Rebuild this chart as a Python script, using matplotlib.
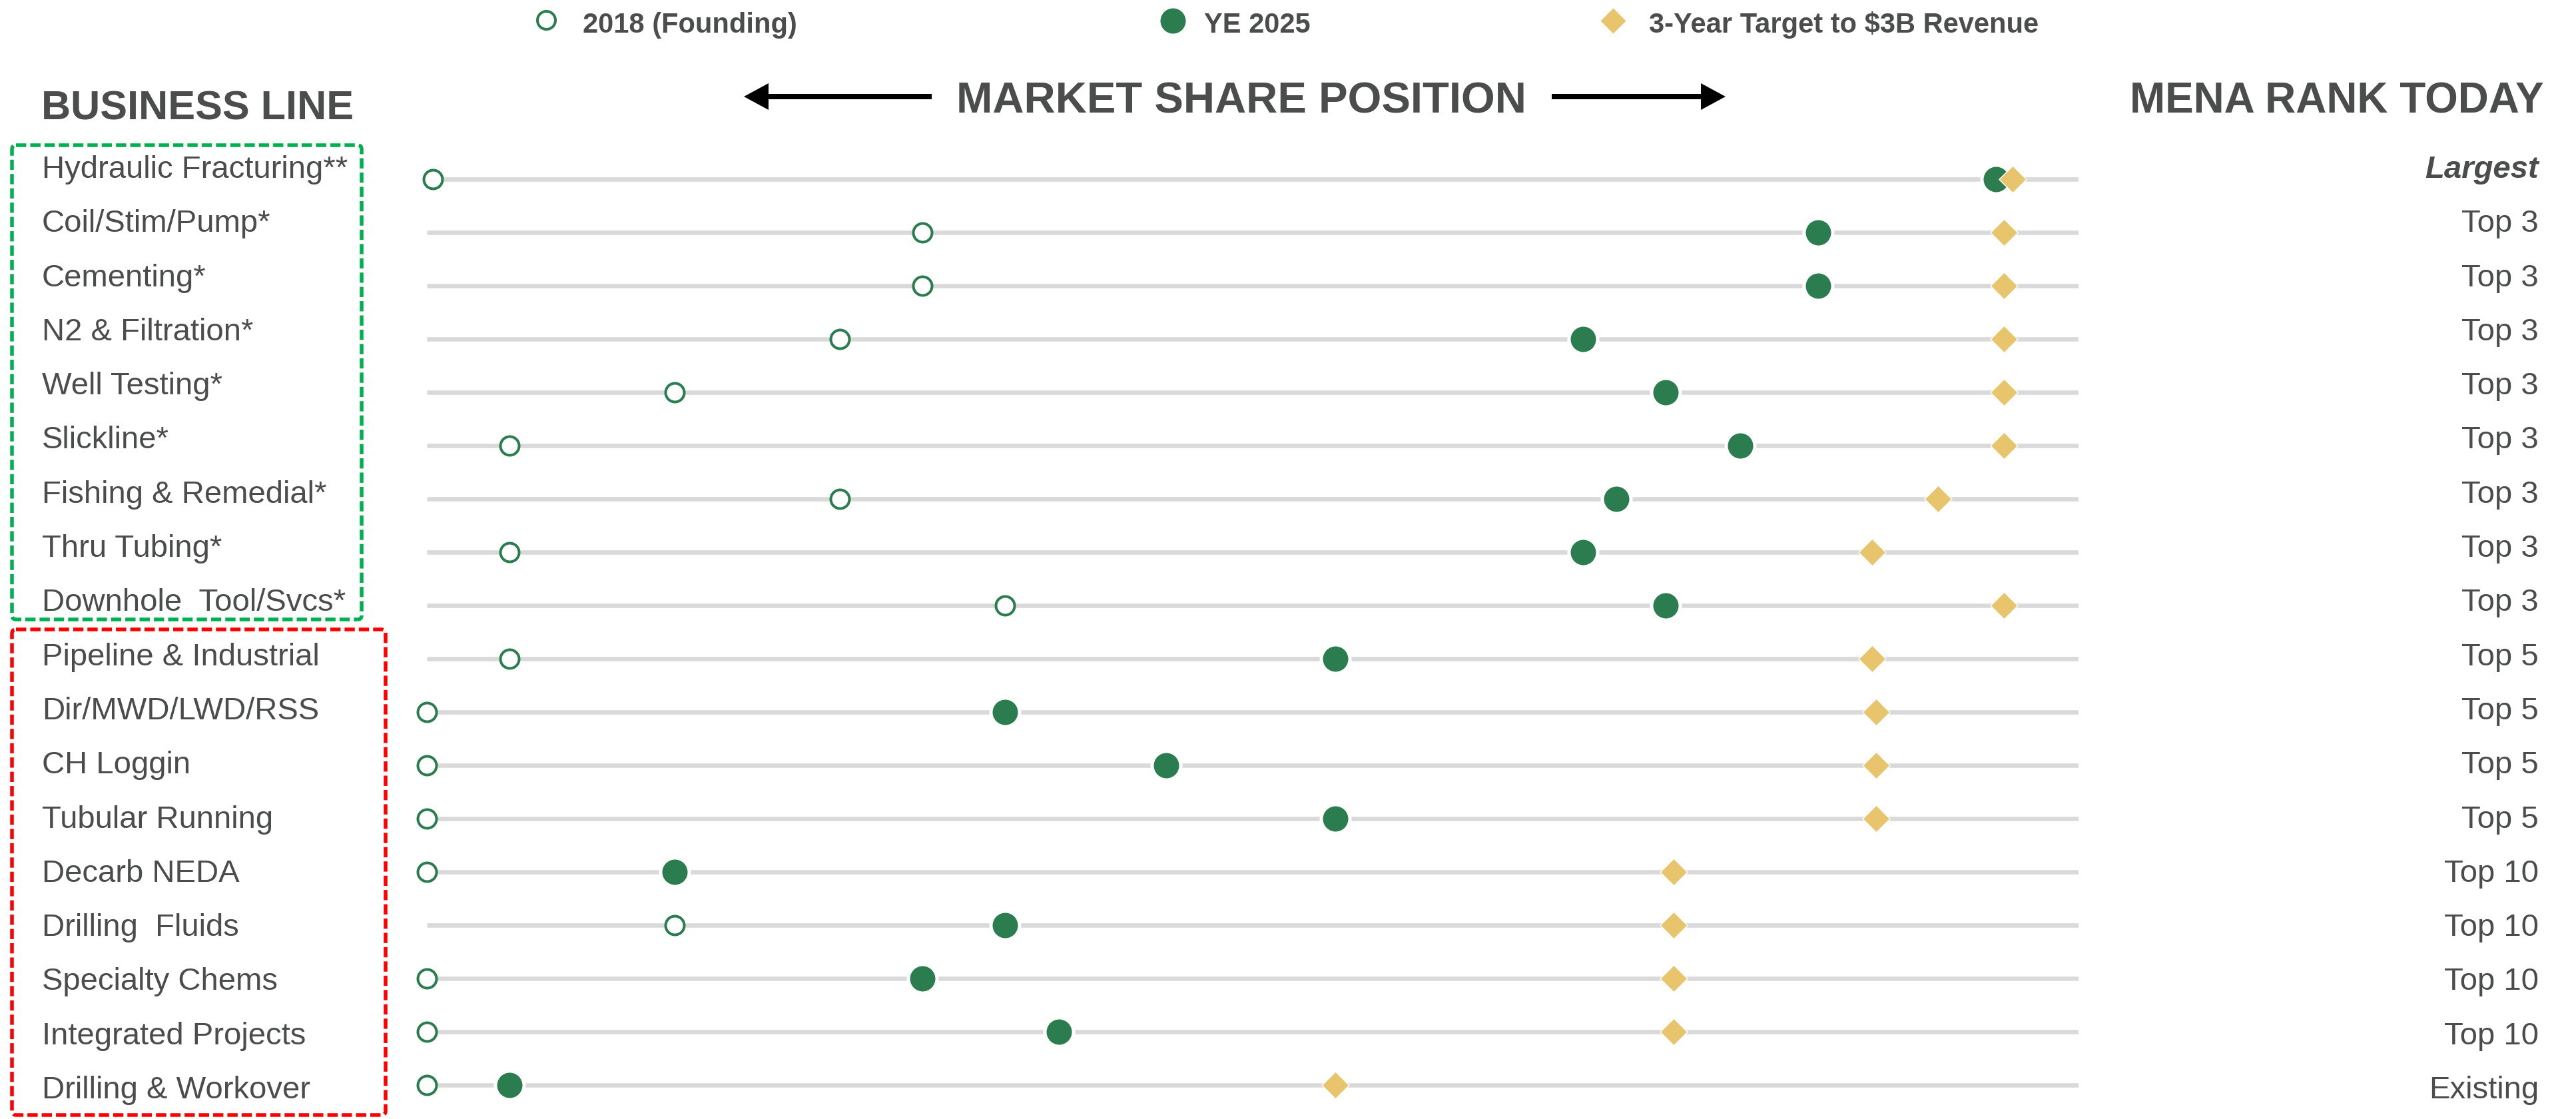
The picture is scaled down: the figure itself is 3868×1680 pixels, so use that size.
import matplotlib.pyplot as plt
from matplotlib.patches import FancyBboxPatch, FancyArrow

plt.rcParams["font.family"] = ["Liberation Sans", "DejaVu Sans"]

# Business lines, top to bottom
business_lines = [
    "Hydraulic Fracturing**", "Coil/Stim/Pump*", "Cementing*", "N2 & Filtration*",
    "Well Testing*", "Slickline*", "Fishing & Remedial*", "Thru Tubing*",
    "Downhole  Tool/Svcs*", "Pipeline & Industrial", "Dir/MWD/LWD/RSS", "CH Loggin",
    "Tubular Running", "Decarb NEDA", "Drilling  Fluids", "Specialty Chems",
    "Integrated Projects", "Drilling & Workover",
]
mena_rank = [
    "Largest", "Top 3", "Top 3", "Top 3", "Top 3", "Top 3", "Top 3", "Top 3", "Top 3",
    "Top 5", "Top 5", "Top 5", "Top 5", "Top 10", "Top 10", "Top 10", "Top 10", "Existing",
]

# Market share position (0 = left end of the track, 20 = right end)
pos_2018 = [0.07, 6, 6, 5, 3, 1, 5, 1, 7, 1, 0, 0, 0, 0, 3, 0, 0, 0]
pos_2025 = [19.0, 16.85, 16.85, 14.0, 15.0, 15.9, 14.4, 14.0, 15.0,
            11.0, 7.0, 8.95, 11.0, 3.0, 7.0, 6.0, 7.65, 1.0]
pos_target = [19.2, 19.1, 19.1, 19.1, 19.1, 19.1, 18.3, 17.5, 19.1,
              17.5, 17.55, 17.55, 17.55, 15.1, 15.1, 15.1, 15.1, 11.0]

legend_labels = ["2018 (Founding)", "YE 2025", "3-Year Target to $3B Revenue"]

GREEN = "#2b7d4f"
GOLD = "#e8c46c"
TRACK = "#d9d9d9"
TEXT = "#4a4d4c"
PT = 0.72  # points per pixel at dpi 100

W, H = 3868, 1680
fig = plt.figure(figsize=(W / 100, H / 100), dpi=100)

# overlay in pixel coordinates for headers, labels, boxes and arrows
ov = fig.add_axes([0, 0, 1, 1])
ov.set_xlim(0, W)
ov.set_ylim(H, 0)
ov.axis("off")

# plotting area: track runs from x=641px to x=3121px, rows every 80px from y=269px
x0_px, x1_px = 641, 3121
row0_px, row_step = 269, 80.0
ax = fig.add_axes([x0_px / W, 0, (x1_px - x0_px) / W, 1])
ax.set_xlim(0, 20)
ax.set_ylim((H - row0_px) / row_step, -row0_px / row_step)
ax.axis("off")

diamond = [(0, 1), (1, 0), (0, -1), (-1, 0), (0, 1)]
n = len(business_lines)
rows = list(range(n))

ax.hlines(rows, 0, 20, color=TRACK, lw=6.5 * PT, zorder=1)
ax.plot(pos_2018, rows, ls="none", marker="o", ms=28 * PT, mfc="white",
        mec=GREEN, mew=4 * PT, zorder=3, clip_on=False)
ax.plot(pos_2025, rows, ls="none", marker="o", ms=43 * PT, mfc=GREEN,
        mec="white", mew=5 * PT, zorder=4, clip_on=False)
ax.plot(pos_target, rows, ls="none", marker=diamond, ms=41 * PT, mfc=GOLD,
        mec="white", mew=1.5 * PT, zorder=5, clip_on=False)

# legend row
ov.plot([820], [30], ls="none", marker="o", ms=27 * PT, mfc="white", mec=GREEN, mew=4 * PT)
ov.plot([1761], [31], ls="none", marker="o", ms=38 * PT, mfc=GREEN, mec="none")
ov.plot([2422], [31], ls="none", marker=diamond, ms=38 * PT, mfc=GOLD, mec="none")
for x, lab in zip([875, 1808, 2476], legend_labels):
    ov.text(x, 49, lab, fontsize=30, fontweight="bold", color=TEXT, ha="left", va="baseline")

# column headers
ov.text(62, 180, "BUSINESS LINE", fontsize=44, fontweight="bold", color=TEXT,
        ha="left", va="baseline")
ov.text(1864, 170, "MARKET SHARE POSITION", fontsize=47, fontweight="bold", color=TEXT,
        ha="center", va="baseline")
ov.text(3820, 170, "MENA RANK TODAY", fontsize=46, fontweight="bold", color=TEXT,
        ha="right", va="baseline")
ov.add_patch(FancyArrow(1399, 145, 1117 - 1399, 0, width=8, head_width=40, head_length=37,
                        length_includes_head=True, color="black", lw=0))
ov.add_patch(FancyArrow(2330, 145, 2591 - 2330, 0, width=8, head_width=40, head_length=37,
                        length_includes_head=True, color="black", lw=0))

# row labels on both sides
label_fs = 34
cap_half = 0.716 * label_fs / PT / 2
for i in rows:
    yc = 250 + 81.3 * i
    ov.text(63, yc + cap_half, business_lines[i], fontsize=label_fs, color=TEXT,
            ha="left", va="baseline")
    if mena_rank[i] == "Largest":
        ov.text(3812, yc + cap_half, mena_rank[i], fontsize=label_fs, color=TEXT,
                fontweight="bold", fontstyle="italic", ha="right", va="baseline")
    else:
        ov.text(3812, yc + cap_half, mena_rank[i], fontsize=label_fs, color=TEXT,
                ha="right", va="baseline")

# dashed group boxes
for (bx0, by0, bx1, by1), col in [((18, 218, 543, 930), "#00b050"),
                                  ((18, 945, 579, 1674), "#ff0000")]:
    ov.add_patch(FancyBboxPatch((bx0, by0), bx1 - bx0, by1 - by0,
                                boxstyle="round,pad=0,rounding_size=6",
                                fill=False, ec=col, lw=5.5 * PT,
                                ls=(0, (2.8, 1.1))))

fig.savefig("out.png", dpi=100)
